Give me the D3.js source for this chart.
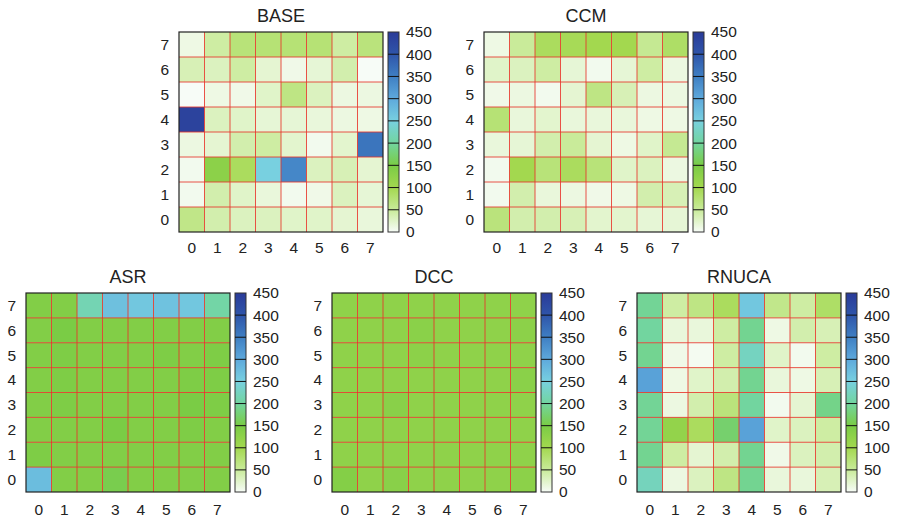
<!DOCTYPE html>
<html>
<head>
<meta charset="utf-8">
<script src="https://cdn.jsdelivr.net/npm/d3@7"></script>
<style>
  body { margin: 0; background: #fff; }
  svg { display: block; font-family: "Liberation Sans", Arial, sans-serif; }
</style>
</head>
<body>
<svg id="chart" width="897" height="519"></svg>
<script>
// ---- data (rows listed top (y=7) to bottom (y=0), columns x=0..7) ----
const xCategories = [0, 1, 2, 3, 4, 5, 6, 7];
const yCategories = [0, 1, 2, 3, 4, 5, 6, 7];
const colorTicks = [0, 50, 100, 150, 200, 250, 300, 350, 400, 450];
const colorStops = [0, 50, 100, 150, 200, 250, 300, 350, 400, 450];
const colorRange = ["#f7fcf7", "#c9eb9a", "#a3d84f", "#7acc45", "#72d59f",
                    "#78d0e0", "#5ea9dc", "#3f7fc3", "#2f55aa", "#2a3b98"];

const titles = ["BASE", "CCM", "ASR", "DCC", "RNUCA"];

const baseValues = [
  [10, 45, 72, 75, 75, 75, 45, 70],
  [35, 30, 45, 20, 8, 18, 40, 0],
  [0, 10, 8, 25, 65, 30, 12, 12],
  [435, 30, 25, 18, 18, 15, 12, 10],
  [12, 20, 40, 45, 22, 5, 22, 362],
  [5, 128, 90, 250, 340, 30, 35, 20],
  [5, 40, 25, 15, 5, 8, 30, 18],
  [62, 40, 30, 30, 25, 25, 20, 15]
];
const ccmValues = [
  [10, 50, 90, 95, 100, 100, 55, 85],
  [25, 30, 45, 18, 5, 18, 45, 12],
  [8, 12, 5, 20, 65, 35, 12, 12],
  [75, 15, 22, 15, 15, 15, 10, 10],
  [15, 18, 40, 50, 20, 10, 25, 55],
  [5, 100, 72, 90, 72, 25, 30, 12],
  [5, 40, 15, 12, 8, 10, 40, 35],
  [70, 40, 40, 35, 22, 22, 18, 18]
];
const asrValues = [
  [140, 140, 215, 270, 262, 268, 262, 205],
  [140, 150, 140, 140, 140, 140, 140, 140],
  [140, 145, 140, 140, 140, 145, 140, 145],
  [140, 145, 140, 140, 140, 140, 145, 145],
  [140, 145, 140, 140, 140, 140, 150, 145],
  [140, 140, 140, 150, 140, 140, 145, 140],
  [145, 140, 140, 140, 140, 140, 140, 140],
  [275, 140, 140, 155, 140, 140, 140, 140]
];
const dccValues = [
  [125, 125, 125, 125, 125, 125, 125, 125],
  [125, 125, 125, 130, 125, 125, 125, 128],
  [125, 125, 125, 128, 125, 125, 125, 125],
  [125, 125, 125, 125, 125, 125, 125, 130],
  [125, 125, 132, 125, 125, 125, 125, 125],
  [125, 125, 125, 125, 125, 125, 125, 125],
  [125, 125, 125, 125, 125, 125, 125, 125],
  [138, 125, 132, 125, 125, 125, 125, 128]
];
const rnucaValues = [
  [195, 45, 65, 90, 262, 60, 45, 85],
  [200, 15, 15, 45, 192, 10, 40, 35],
  [192, 8, 3, 45, 225, 25, 5, 45],
  [308, 10, 25, 40, 192, 15, 10, 35],
  [195, 12, 40, 70, 200, 5, 20, 188],
  [195, 120, 90, 172, 308, 25, 30, 45],
  [192, 45, 20, 40, 192, 8, 30, 40],
  [222, 12, 30, 65, 192, 15, 15, 35]
];
const allValues = [baseValues, ccmValues, asrValues, dccValues, rnucaValues];

// ---- layout ----
const layout = [
  { x: 179, y: 32, w: 204, h: 200, cbx: 388, xlabDy: 16 },
  { x: 484, y: 32, w: 204, h: 200, cbx: 693, xlabDy: 16 },
  { x: 26, y: 293, w: 204, h: 199, cbx: 235, xlabDy: 18 },
  { x: 332, y: 293, w: 204, h: 199, cbx: 541, xlabDy: 18 },
  { x: 637, y: 293, w: 204, h: 199, cbx: 846, xlabDy: 18 }
];
const cbW = 11;
const tickFont = 15.5;
const titleFont = 18;

const color = d3.scaleLinear().domain(colorStops).range(colorRange).clamp(true);
const svg = d3.select("#chart");
const defs = svg.append("defs");
const grad = defs.append("linearGradient").attr("id", "cbgrad")
  .attr("x1", 0).attr("y1", 1).attr("x2", 0).attr("y2", 0);
colorStops.forEach((s, i) => {
  grad.append("stop").attr("offset", s / 450).attr("stop-color", colorRange[i]);
});

titles.forEach((title, pi) => {
  const L = layout[pi];
  const vals = allValues[pi];
  const g = svg.append("g");
  const xs = d3.scaleBand().domain(xCategories).range([L.x, L.x + L.w]).padding(0);
  const ys = d3.scaleBand().domain(yCategories).range([L.y + L.h, L.y]).padding(0);

  const cells = [];
  vals.forEach((row, ri) => {
    const yv = 7 - ri;
    row.forEach((v, xi) => cells.push({ x: xCategories[xi], y: yv, v }));
  });

  g.selectAll("rect.cell").data(cells).join("rect")
    .attr("class", "cell")
    .attr("x", d => xs(d.x)).attr("y", d => ys(d.y))
    .attr("width", xs.bandwidth()).attr("height", ys.bandwidth())
    .attr("fill", d => color(d.v));

  // red grid lines
  for (let i = 1; i < 8; i++) {
    const gx = xs(xCategories[i]);
    g.append("line").attr("x1", gx).attr("x2", gx).attr("y1", L.y).attr("y2", L.y + L.h)
      .attr("stroke", "#e8352a").attr("stroke-width", 1).attr("stroke-opacity", 0.85);
    const gy = ys(yCategories[i]) + ys.bandwidth();
    g.append("line").attr("y1", gy).attr("y2", gy).attr("x1", L.x).attr("x2", L.x + L.w)
      .attr("stroke", "#e8352a").attr("stroke-width", 1).attr("stroke-opacity", 0.85);
  }
  // border
  g.append("rect").attr("x", L.x).attr("y", L.y).attr("width", L.w).attr("height", L.h)
    .attr("fill", "none").attr("stroke", "#222").attr("stroke-width", 1.2);

  // title
  g.append("text").attr("x", L.x + L.w / 2).attr("y", L.y - 10)
    .attr("text-anchor", "middle").attr("font-size", titleFont).attr("fill", "#222").text(title);

  // x labels
  g.selectAll("text.xl").data(xCategories).join("text").attr("class", "xl")
    .attr("x", d => xs(d) + xs.bandwidth() / 2).attr("y", L.y + L.h + L.xlabDy)
    .attr("dy", "0.35em").attr("text-anchor", "middle").attr("font-size", tickFont).attr("fill", "#222")
    .text(d => d);
  // y labels
  g.selectAll("text.yl").data(yCategories).join("text").attr("class", "yl")
    .attr("x", L.x - 10).attr("y", d => ys(d) + ys.bandwidth() / 2)
    .attr("dy", "0.35em").attr("text-anchor", "end").attr("font-size", tickFont).attr("fill", "#222")
    .text(d => d);

  // colorbar
  const cs = d3.scaleLinear().domain([0, 450]).range([L.y + L.h, L.y]);
  g.append("rect").attr("x", L.cbx).attr("y", L.y).attr("width", cbW).attr("height", L.h)
    .attr("fill", "url(#cbgrad)").attr("stroke", "#333").attr("stroke-width", 1);
  g.selectAll("line.ct").data(colorTicks.slice(1, -1)).join("line").attr("class", "ct")
    .attr("x1", L.cbx).attr("x2", L.cbx + cbW)
    .attr("y1", d => cs(d)).attr("y2", d => cs(d))
    .attr("stroke", "#111").attr("stroke-width", 1);
  g.selectAll("text.cl").data(colorTicks).join("text").attr("class", "cl")
    .attr("x", L.cbx + cbW + 7).attr("y", d => cs(d)).attr("dy", "0.35em")
    .attr("font-size", tickFont).attr("fill", "#222").text(d => d);
});
</script>
</body>
</html>
